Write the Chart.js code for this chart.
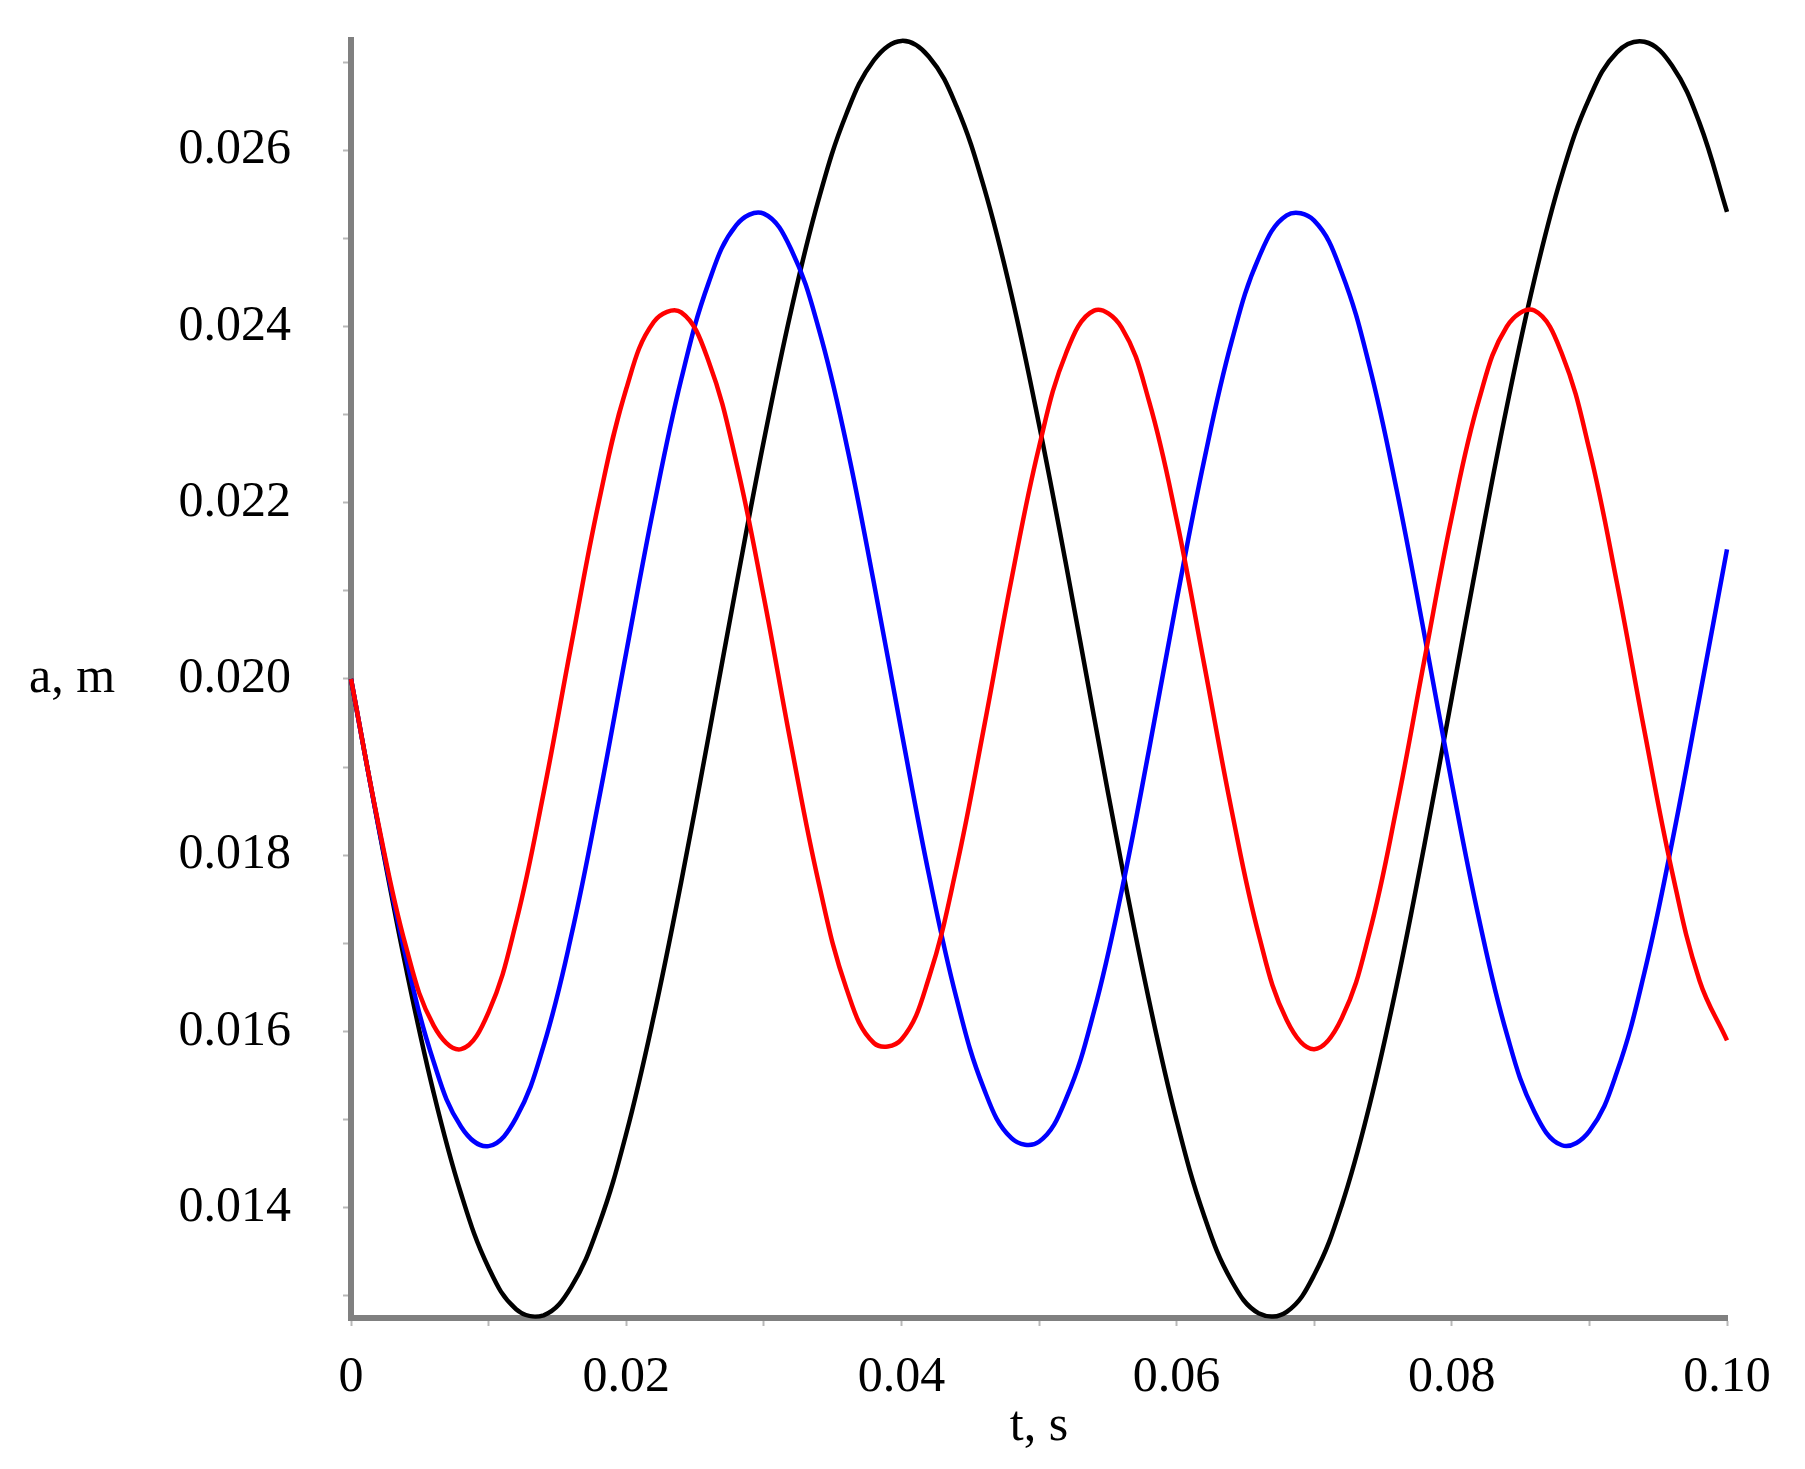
<!DOCTYPE html>
<html>
<head>
<meta charset="utf-8">
<title>a(t)</title>
<script src="https://cdn.jsdelivr.net/npm/chart.js@4"></script>
<style>
  html, body { margin: 0; padding: 0; background: #fff; }
  canvas { display: block; }
</style>
</head>
<body>
<canvas id="waveChart" width="1805" height="1469"></canvas>
<script>
// time, s
const TIMES = [
  0, 0.002, 0.004, 0.006, 0.008, 0.010, 0.012, 0.014, 0.016, 0.018,
  0.020, 0.022, 0.024, 0.026, 0.028, 0.030, 0.032, 0.034, 0.036, 0.038,
  0.040, 0.042, 0.044, 0.046, 0.048, 0.050, 0.052, 0.054, 0.056, 0.058,
  0.060, 0.062, 0.064, 0.066, 0.068, 0.070, 0.072, 0.074, 0.076, 0.078,
  0.080, 0.082, 0.084, 0.086, 0.088, 0.090, 0.092, 0.094, 0.096, 0.098,
  0.100,
];

// a, m
const BLACK_A = [
  0.02000, 0.01832, 0.01672, 0.01531, 0.01416, 0.01332, 0.01285, 0.01278, 0.01310, 0.01380,
  0.01484, 0.01617, 0.01770, 0.01936, 0.02106, 0.02270, 0.02419, 0.02545, 0.02641, 0.02702,
  0.02724, 0.02706, 0.02650, 0.02558, 0.02436, 0.02289, 0.02127, 0.01957, 0.01790, 0.01635,
  0.01499, 0.01391, 0.01317, 0.01280, 0.01282, 0.01324, 0.01403, 0.01515, 0.01653, 0.01811,
  0.01979, 0.02148, 0.02309, 0.02453, 0.02572, 0.02659, 0.02711, 0.02723, 0.02696, 0.02631,
  0.02530,
];
const BLUE_A = [
  0.02000, 0.01833, 0.01684, 0.01566, 0.01492, 0.01470, 0.01502, 0.01584, 0.01708, 0.01862,
  0.02030, 0.02195, 0.02340, 0.02450, 0.02515, 0.02528, 0.02487, 0.02397, 0.02267, 0.02109,
  0.01941, 0.01778, 0.01638, 0.01535, 0.01479, 0.01475, 0.01525, 0.01623, 0.01759, 0.01920,
  0.02089, 0.02248, 0.02383, 0.02479, 0.02526, 0.02520, 0.02461, 0.02356, 0.02214, 0.02051,
  0.01882, 0.01726, 0.01597, 0.01509, 0.01471, 0.01487, 0.01554, 0.01667, 0.01814, 0.01979,
  0.02147,
];
const RED_A = [
  0.02000, 0.01835, 0.01696, 0.01607, 0.01580, 0.01622, 0.01724, 0.01871, 0.02038, 0.02200,
  0.02329, 0.02405, 0.02416, 0.02360, 0.02246, 0.02093, 0.01924, 0.01768, 0.01649, 0.01587,
  0.01591, 0.01661, 0.01786, 0.01945, 0.02113, 0.02263, 0.02371, 0.02418, 0.02399, 0.02315,
  0.02181, 0.02017, 0.01851, 0.01708, 0.01613, 0.01580, 0.01615, 0.01711, 0.01855, 0.02021,
  0.02184, 0.02318, 0.02400, 0.02418, 0.02369, 0.02260, 0.02109, 0.01941, 0.01782, 0.01658,
  0.01590,
];

const X_TICKS = [0, 0.01, 0.02, 0.03, 0.04, 0.05, 0.06, 0.07, 0.08, 0.09, 0.10];
const X_LABELS = ["0", "", "0.02", "", "0.04", "", "0.06", "", "0.08", "", "0.10"];
const Y_TICKS = [0.013, 0.014, 0.015, 0.016, 0.017, 0.018, 0.019, 0.020, 0.021, 0.022, 0.023, 0.024, 0.025, 0.026, 0.027];
const Y_LABELS = ["", "0.014", "", "0.016", "", "0.018", "", "0.020", "", "0.022", "", "0.024", "", "0.026", ""];
const X_TITLE = "t, s";
const Y_TITLE = "a, m";

const FONT_FAMILY = '"Liberation Serif", "Times New Roman", serif';
const FONT_SIZE = 50;
const AXIS_GRAY = "#808080";

function series(values, color) {
  return {
    data: TIMES.map((t, i) => ({ x: t, y: values[i] })),
    borderColor: color,
    borderWidth: 4.5,
    pointRadius: 0,
    tension: 0.4,
    fill: false,
    clip: false,
  };
}

// Maple-style axis titles: horizontal y label beside the 0.020 tick, x label under the axis
const axisTitles = {
  id: "axisTitles",
  afterDraw(chart) {
    const { ctx, chartArea, scales } = chart;
    ctx.save();
    ctx.font = `${FONT_SIZE}px ${FONT_FAMILY}`;
    ctx.fillStyle = "#000";
    ctx.textBaseline = "middle";
    ctx.textAlign = "left";
    ctx.fillText(Y_TITLE, 29, scales.y.getPixelForValue(0.020));
    ctx.textAlign = "center";
    ctx.fillText(X_TITLE, (chartArea.left + chartArea.right) / 2, scales.x.bottom - 42);
    ctx.restore();
  },
};

const tickFont = { family: FONT_FAMILY, size: FONT_SIZE };

new Chart(document.getElementById("waveChart"), {
  type: "line",
  data: {
    datasets: [
      series(RED_A, "#ff0000"),
      series(BLUE_A, "#0000ff"),
      series(BLACK_A, "#000000"),
    ],
  },
  options: {
    responsive: false,
    animation: false,
    devicePixelRatio: 1,
    layout: { padding: { top: 40, right: 78, bottom: 0, left: 0 } },
    plugins: {
      legend: { display: false },
      tooltip: { enabled: false },
    },
    scales: {
      x: {
        type: "linear",
        min: 0,
        max: 0.1,
        afterBuildTicks: (scale) => { scale.ticks = X_TICKS.map((value) => ({ value })); },
        afterFit: (scale) => {
          scale.height = 151;
          scale.paddingLeft = 0;
          scale.paddingRight = 0;
        },
        ticks: {
          callback: (value, index) => X_LABELS[index],
          font: tickFont,
          color: "#000",
          padding: 22,
          maxRotation: 0,
          autoSkip: false,
        },
        grid: { drawOnChartArea: false, drawTicks: true, tickLength: 8, tickColor: "#b8b8b8", tickWidth: 2 },
        border: { color: AXIS_GRAY, width: 6 },
      },
      y: {
        type: "linear",
        min: 0.01275,
        max: 0.02725,
        afterBuildTicks: (scale) => { scale.ticks = Y_TICKS.map((value) => ({ value })); },
        afterFit: (scale) => {
          scale.width = 351;
          scale.paddingTop = 0;
          scale.paddingBottom = 0;
        },
        ticks: {
          callback: (value, index) => Y_LABELS[index],
          font: tickFont,
          color: "#000",
          padding: 52,
          autoSkip: false,
        },
        grid: { drawOnChartArea: false, drawTicks: true, tickLength: 8, tickColor: "#b8b8b8", tickWidth: 2 },
        border: { color: AXIS_GRAY, width: 6 },
      },
    },
  },
  plugins: [axisTitles],
});
</script>
</body>
</html>
